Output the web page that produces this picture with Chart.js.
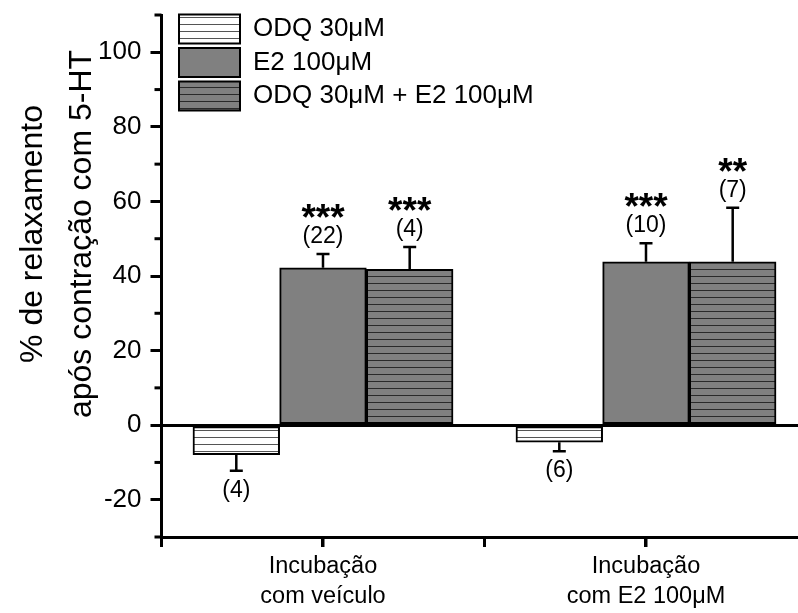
<!DOCTYPE html>
<html>
<head>
<meta charset="utf-8">
<script src="https://cdn.jsdelivr.net/npm/chart.js@4"></script>
<style>
  body { margin: 0; background: #fff; }
</style>
</head>
<body>
<canvas id="myChart" width="798" height="613"></canvas>
<script>
// data
const categories = [['Incubação', 'com veículo'], ['Incubação', 'com E2 100μM']];
const seriesNames = ['ODQ 30μM', 'E2 100μM', 'ODQ 30μM + E2 100μM'];
const odqValues = [-7.9, -4.6];
const odqErrors = [4.3, 2.4];
const e2Values = [42.2, 43.8];
const e2Errors = [3.7, 5.0];
const comboValues = [41.8, 43.8];
const comboErrors = [6.0, 14.5];
const odqN = ['(4)', '(6)'];
const e2N = ['(22)', '(10)'];
const comboN = ['(4)', '(7)'];
const odqSig = ['', ''];
const e2Sig = ['***', '***'];
const comboSig = ['***', '**'];
const yTicks = [-20, 0, 20, 40, 60, 80, 100];
const yTitle = ['% de relaxamento', 'após contração com 5-HT'];

const FONT = '"Liberation Sans", Arial, sans-serif';

function stripes(bg, line) {
  const c = document.createElement('canvas');
  c.width = 8; c.height = 7;
  const g = c.getContext('2d');
  g.fillStyle = bg;
  g.fillRect(0, 0, 8, 7);
  g.fillStyle = line;
  g.fillRect(0, 3, 8, 1);
  return g.createPattern(c, 'repeat');
}

const pts = vals => vals.map((v, i) => ({ x: i + 1, y: v }));

const errorsPlugin = {
  id: 'errs',
  afterDatasetsDraw(chart) {
    const ctx = chart.ctx;
    const y = chart.scales.y;
    chart.data.datasets.forEach((ds, di) => {
      const meta = chart.getDatasetMeta(di);
      meta.data.forEach((bar, i) => {
        const v = ds.data[i].y;
        const e = ds.errors[i];
        const end = v >= 0 ? v + e : v - e;
        const y0 = y.getPixelForValue(v);
        const y1 = y.getPixelForValue(end);
        ctx.save();
        ctx.strokeStyle = '#000';
        ctx.lineWidth = 2.5;
        ctx.beginPath();
        ctx.moveTo(bar.x, y0);
        ctx.lineTo(bar.x, y1);
        ctx.moveTo(bar.x - 6.5, y1);
        ctx.lineTo(bar.x + 6.5, y1);
        ctx.stroke();
        ctx.fillStyle = '#000';
        ctx.textAlign = 'center';
        ctx.textBaseline = 'alphabetic';
        if (v >= 0) {
          const nc = y1 - 17;
          ctx.font = '23px ' + FONT;
          ctx.fillText(ds.nLabels[i], bar.x, nc + 6);
          ctx.font = 'bold 37px ' + FONT;
          ctx.fillText(ds.sig[i], bar.x, nc - 28 + 21);
        } else {
          const nc = y1 + 20;
          ctx.font = '23px ' + FONT;
          ctx.fillText(ds.nLabels[i], bar.x, nc + 6);
        }
        ctx.restore();
      });
    });
  }
};

const extrasPlugin = {
  id: 'extras',
  afterLayout(chart) {
    chart.legend.left += 13;
    chart.legend.top = chart.chartArea.top - 5;
  },
  afterDraw(chart) {
    const ctx = chart.ctx;
    const x = chart.scales.x;
    const y = chart.scales.y;
    const { left, bottom } = chart.chartArea;
    ctx.save();
    ctx.strokeStyle = '#000';
    ctx.lineWidth = 3;
    // minor ticks on y
    for (let v = -30; v <= 110; v += 10) {
      if (yTicks.includes(v)) continue;
      const p = y.getPixelForValue(v);
      ctx.beginPath();
      ctx.moveTo(left - 7, p);
      ctx.lineTo(left, p);
      ctx.stroke();
    }
    // ticks on x
    x.ticks.forEach(t => {
      const p = x.getPixelForValue(t.value);
      ctx.beginPath();
      ctx.moveTo(p, bottom);
      ctx.lineTo(p, bottom + 10);
      ctx.stroke();
    });
    // y title
    ctx.fillStyle = '#000';
    ctx.font = '32px ' + FONT;
    ctx.textAlign = 'center';
    ctx.textBaseline = 'alphabetic';
    const base = [42, 91];
    yTitle.forEach((t, i) => {
      ctx.save();
      ctx.translate(base[i], 234);
      ctx.rotate(-Math.PI / 2);
      ctx.fillText(t, 0, 0);
      ctx.restore();
    });
    ctx.restore();
  }
};

new Chart(document.getElementById('myChart'), {
  type: 'bar',
  data: {
    datasets: [
      {
        label: seriesNames[0],
        data: pts(odqValues),
        errors: odqErrors, nLabels: odqN, sig: odqSig,
        backgroundColor: stripes('#ffffff', '#555555'),
        borderColor: '#000', borderWidth: 2, borderSkipped: false
      },
      {
        label: seriesNames[1],
        data: pts(e2Values),
        errors: e2Errors, nLabels: e2N, sig: e2Sig,
        backgroundColor: '#808080',
        borderColor: '#000', borderWidth: 2, borderSkipped: false
      },
      {
        label: seriesNames[2],
        data: pts(comboValues),
        errors: comboErrors, nLabels: comboN, sig: comboSig,
        backgroundColor: stripes('#808080', '#2a2a2a'),
        borderColor: '#000', borderWidth: 2, borderSkipped: false
      }
    ]
  },
  options: {
    responsive: false,
    animation: false,
    layout: { padding: { left: 0, top: 15, right: 0, bottom: 0 } },
    barThickness: 86.7,
    plugins: {
      legend: {
        position: 'chartArea',
        align: 'start',
        labels: {
          boxWidth: 61, boxHeight: 29, padding: 4.5,
          color: '#000',
          font: { family: FONT, size: 26 }
        }
      },
      tooltip: { enabled: false }
    },
    scales: {
      x: {
        type: 'linear',
        offset: false,
        min: 0.5, max: 2.4706,
        afterFit(s) { s.height = 76; s.paddingLeft = 0; s.paddingRight = 0; },
        border: { display: true, color: '#000', width: 3 },
        grid: { offset: false, drawOnChartArea: false, drawTicks: true, tickLength: 10, tickColor: '#000', tickWidth: 3 },
        ticks: {
          stepSize: 0.5, includeBounds: false, autoSkip: false, maxRotation: 0,
          padding: 4, color: '#000',
          font: { family: FONT, size: 23.5, lineHeight: 1.28 },
          callback: v => (v === 1 ? categories[0] : v === 2 ? categories[1] : '')
        }
      },
      y: {
        min: -30, max: 110,
        afterFit(s) { s.width = 161.5; s.paddingTop = 0; s.paddingBottom = 0; },
        border: { display: true, color: '#000', width: 3 },
        grid: {
          drawOnChartArea: true,
          color: c => (c.tick && c.tick.value === 0 ? '#000' : 'rgba(0,0,0,0)'),
          lineWidth: 3,
          tickLength: 11,
          tickWidth: 3,
          tickColor: c => (c.tick && yTicks.includes(c.tick.value) ? '#000' : 'rgba(0,0,0,0)')
        },
        ticks: {
          stepSize: 10, padding: 9, color: '#000',
          font: { family: FONT, size: 26 },
          callback: v => (yTicks.includes(v) ? String(v) : '')
        }
      }
    }
  },
  plugins: [errorsPlugin, extrasPlugin]
});
</script>
</body>
</html>
